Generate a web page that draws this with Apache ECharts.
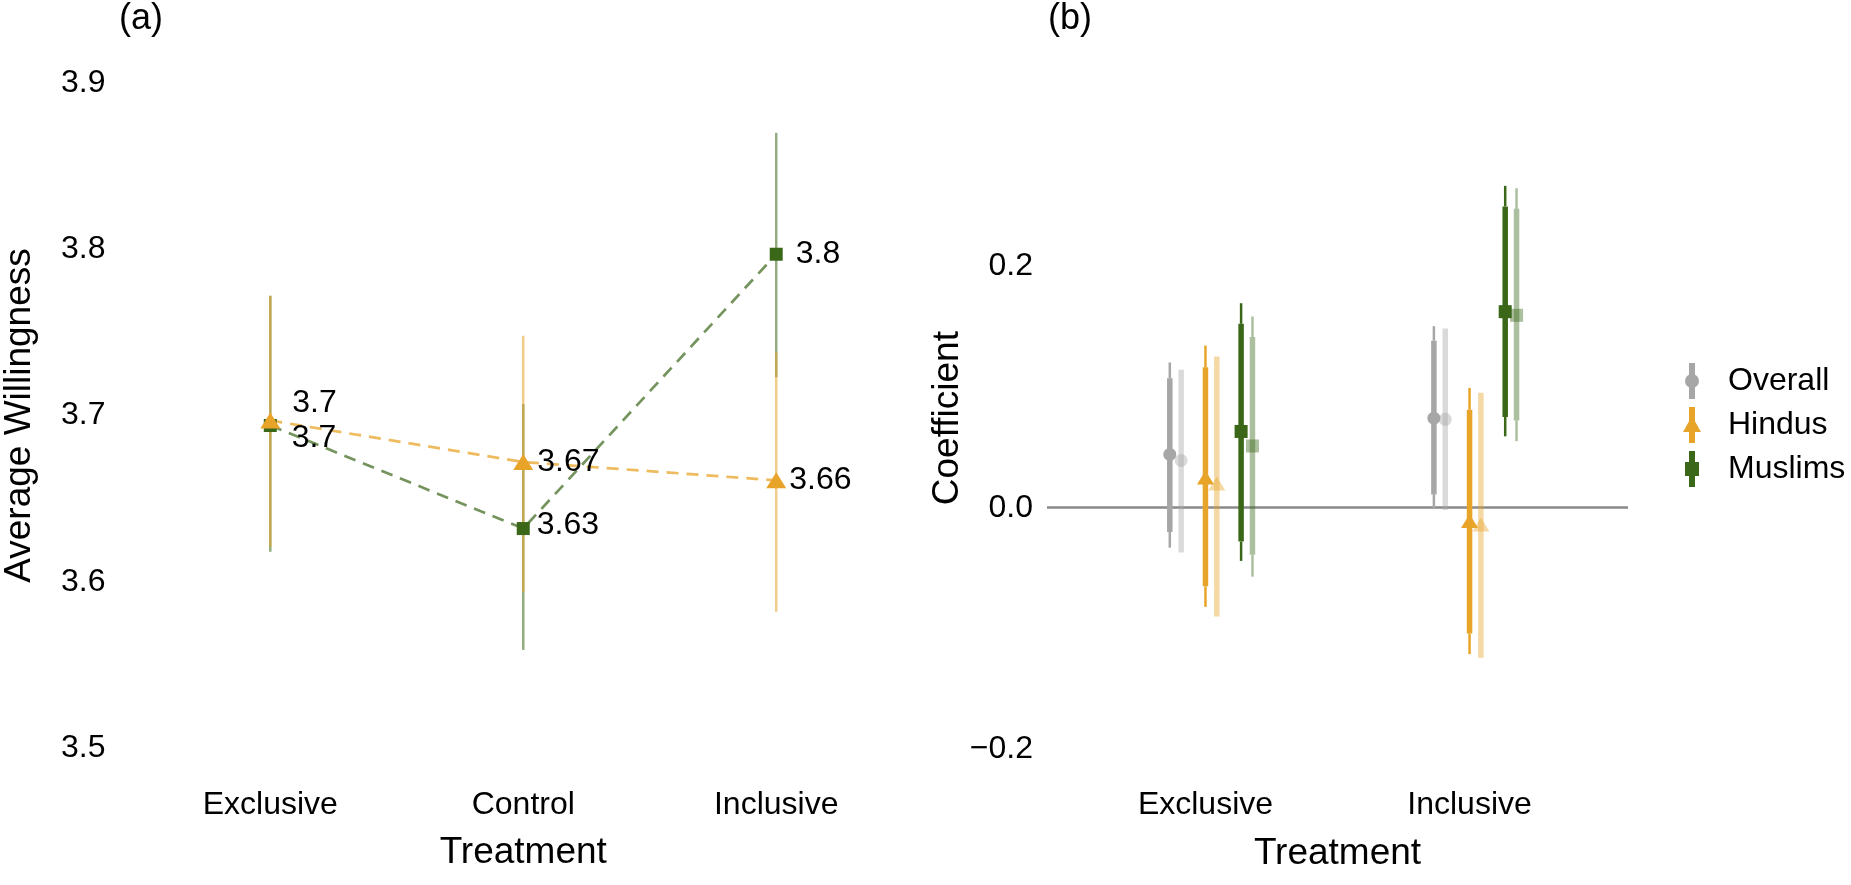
<!DOCTYPE html>
<html>
<head>
<meta charset="utf-8">
<script src="https://cdn.jsdelivr.net/npm/echarts@6/dist/echarts.min.js"></script>
<style>
html, body { margin: 0; padding: 0; background: #fff; }
#chart { width: 1851px; height: 885px; }
</style>
</head>
<body>
<div id="chart"></div>
<script>
// panel (a): average willingness by treatment
var treatmentsA = ['Exclusive', 'Control', 'Inclusive'];
var yTicksA = [3.5, 3.6, 3.7, 3.8, 3.9];
var hindusMean = [3.697, 3.672, 3.661];
var hindusLo = [3.621, 3.594, 3.582];
var hindusHi = [3.772, 3.748, 3.738];
var hindusLabels = ['3.7', '3.67', '3.66'];
var muslimsMean = [3.694, 3.632, 3.797];
var muslimsLo = [3.618, 3.559, 3.723];
var muslimsHi = [3.772, 3.707, 3.870];
var muslimsLabels = ['3.7', '3.63', '3.8'];

// panel (b): coefficients, 95% (thin) and 90% (thick) intervals
var treatmentsB = ['Exclusive', 'Inclusive'];
var yTicksB = [-0.2, 0, 0.2];
var overallEst = [0.044, 0.074];
var overallLo95 = [-0.033, -0.001];
var overallHi95 = [0.120, 0.150];
var overallLo90 = [-0.020, 0.011];
var overallHi90 = [0.107, 0.138];
var hindusEst = [0.025, -0.011];
var hindusLo95 = [-0.082, -0.121];
var hindusHi95 = [0.134, 0.099];
var hindusLo90 = [-0.065, -0.104];
var hindusHi90 = [0.116, 0.081];
var muslimsEst = [0.063, 0.162];
var muslimsLo95 = [-0.044, 0.059];
var muslimsHi95 = [0.169, 0.266];
var muslimsLo90 = [-0.028, 0.075];
var muslimsHi90 = [0.152, 0.249];
// lighter second estimate next to each one
var overallAltEst = [0.039, 0.073];
var overallAltLo = [-0.037, -0.002];
var overallAltHi = [0.114, 0.148];
var hindusAltEst = [0.020, -0.014];
var hindusAltLo = [-0.090, -0.124];
var hindusAltHi = [0.125, 0.095];
var muslimsAltEst = [0.051, 0.159];
var muslimsAltLo95 = [-0.057, 0.055];
var muslimsAltHi95 = [0.158, 0.264];
var muslimsAltLo90 = [-0.039, 0.072];
var muslimsAltHi90 = [0.141, 0.247];

var FONT = 'Liberation Sans';
var ORANGE = '#E8A429', GREEN = '#3A6718', GRAY = '#A6A6A6';
var ORANGE_A = 'rgba(232,164,41,0.55)', GREEN_A = 'rgba(58,103,24,0.55)';
var ORANGE_F = 'rgba(232,164,41,0.42)', GREEN_F = 'rgba(58,103,24,0.42)', GRAY_F = 'rgba(166,166,166,0.42)';

// dodge offsets (x units) for panel (b)
var dodge = { overall: -0.135, hindus: 0, muslims: 0.135 };
var altShift = 0.043;

// label nudges for panel (a) (pixels, from the symbol's right edge)
var hindusNudge = [[12, -17], [4, 0], [3, 0]];
var muslimsNudge = [[15, 13], [7, -3], [13, 0]];

var chart = echarts.init(document.getElementById('chart'));

function barRender(color) {
    return function (params, api) {
        var x = api.value(0);
        var a = api.coord([x, api.value(1)]);
        var b = api.coord([x, api.value(2)]);
        return {
            type: 'line',
            shape: { x1: a[0], y1: a[1], x2: b[0], y2: b[1] },
            style: { stroke: color, lineWidth: 2.5 }
        };
    };
}

function ciRender(color) {
    return function (params, api) {
        var x = api.value(0);
        var p = function (v) { return api.coord([x, v]); };
        var lo95 = p(api.value(1)), hi95 = p(api.value(2));
        var lo90 = p(api.value(3)), hi90 = p(api.value(4));
        var seg = function (a, b, w) {
            return { type: 'line', shape: { x1: a[0], y1: a[1], x2: b[0], y2: b[1] }, style: { stroke: color, lineWidth: w } };
        };
        return { type: 'group', children: [seg(lo95, lo90, 2.5), seg(hi90, hi95, 2.5), seg(lo90, hi90, 5.5)] };
    };
}

function ciData(off, lo95, hi95, lo90, hi90) {
    return treatmentsB.map(function (t, i) {
        return [i + 1 + off, lo95[i], hi95[i], lo90[i], hi90[i]];
    });
}

function ptData(off, est) {
    return treatmentsB.map(function (t, i) { return [i + 1 + off, est[i]]; });
}

function meanData(mean, nudge) {
    return treatmentsA.map(function (t, i) {
        return { value: [i + 1, mean[i]], label: { offset: nudge[i] } };
    });
}

function xAxisFor(grid, max, cats, margin, gap) {
    return {
        gridIndex: grid, type: 'value', min: 0.4, max: max,
        axisLine: { show: false }, axisTick: { show: false }, splitLine: { show: false },
        axisLabel: {
            customValues: cats.map(function (c, i) { return i + 1; }),
            formatter: function (v) { return cats[Math.round(v) - 1]; },
            margin: margin, fontSize: 32, color: '#000', fontFamily: FONT
        },
        name: 'Treatment', nameLocation: 'middle', nameGap: gap,
        nameTextStyle: { fontSize: 37, color: '#000', fontFamily: FONT }
    };
}

chart.setOption({
    animation: false,
    textStyle: { color: '#000', fontFamily: FONT },
    title: [
        { text: '(a)', left: 119, top: 1, padding: 0, textStyle: { fontSize: 36, fontWeight: 'normal', color: '#000', fontFamily: FONT } },
        { text: '(b)', left: 1048, top: 1, padding: 0, textStyle: { fontSize: 36, fontWeight: 'normal', color: '#000', fontFamily: FONT } }
    ],
    grid: [
        { left: 118, top: 83, width: 810, height: 665 },
        { left: 1047, top: 83, width: 581, height: 670.3 }
    ],
    legend: {
        data: [
            { name: 'Overall', icon: 'path://M4 0H10V36H4Z M0 18A7 7 0 1 1 14 18A7 7 0 1 1 0 18Z' },
            { name: 'Hindus', icon: 'path://M6 0H12V36H6Z M9 9L18 25H0Z' },
            { name: 'Muslims', icon: 'path://M4 0H10V36H4Z M0 11H14V25H0Z' }
        ],
        orient: 'vertical', left: 1683, top: 363, padding: 0,
        itemWidth: 18, itemHeight: 36, itemGap: 8, selectedMode: false,
        textStyle: { fontSize: 32, color: '#000', fontFamily: FONT, padding: [0, 0, 0, 22] }
    },
    xAxis: [
        xAxisFor(0, 3.6, treatmentsA, 41, 86),
        xAxisFor(1, 2.6, treatmentsB, 36, 81.5)
    ],
    yAxis: [
        {
            gridIndex: 0, type: 'value', min: 3.5, max: 3.9,
            axisLine: { show: false }, axisTick: { show: false }, splitLine: { show: false },
            axisLabel: {
                customValues: yTicksA,
                formatter: function (v) { return v.toFixed(1); },
                margin: 13, fontSize: 32, color: '#000', fontFamily: FONT
            },
            name: 'Average Willingness', nameLocation: 'middle', nameGap: 80.5,
            nameTextStyle: { fontSize: 37, color: '#000', fontFamily: FONT }
        },
        {
            gridIndex: 1, type: 'value', min: -0.203, max: 0.351,
            axisLine: { show: false }, axisTick: { show: false }, splitLine: { show: false },
            axisLabel: {
                customValues: yTicksB,
                formatter: function (v) { return (v < 0 ? '\u2212' : '') + Math.abs(v).toFixed(1); },
                margin: 14, fontSize: 32, color: '#000', fontFamily: FONT
            },
            name: 'Coefficient', nameLocation: 'middle', nameGap: 67,
            nameTextStyle: { fontSize: 37, color: '#000', fontFamily: FONT }
        }
    ],
    series: [
        // ---- panel (a) ----
        {
            type: 'custom', name: 'Muslims CI (a)', xAxisIndex: 0, yAxisIndex: 0, z: 1,
            renderItem: barRender(GREEN_A),
            data: treatmentsA.map(function (t, i) { return [i + 1, muslimsLo[i], muslimsHi[i]]; })
        },
        {
            type: 'custom', name: 'Hindus CI (a)', xAxisIndex: 0, yAxisIndex: 0, z: 1,
            renderItem: barRender(ORANGE_A),
            data: treatmentsA.map(function (t, i) { return [i + 1, hindusLo[i], hindusHi[i]]; })
        },
        {
            type: 'line', name: 'Hindus line (a)', xAxisIndex: 0, yAxisIndex: 0, z: 2,
            symbol: 'none', silent: true,
            lineStyle: { color: 'rgba(232,164,41,0.75)', width: 2.7, type: [12, 8] },
            data: treatmentsA.map(function (t, i) { return [i + 1, hindusMean[i]]; })
        },
        {
            type: 'line', name: 'Muslims line (a)', xAxisIndex: 0, yAxisIndex: 0, z: 2,
            symbol: 'none', silent: true,
            lineStyle: { color: 'rgba(58,103,24,0.7)', width: 2.7, type: [12, 8] },
            data: treatmentsA.map(function (t, i) { return [i + 1, muslimsMean[i]]; })
        },
        {
            type: 'scatter', name: 'Muslims (a)', xAxisIndex: 0, yAxisIndex: 0, z: 3,
            symbol: 'rect', symbolSize: 13, itemStyle: { color: GREEN, opacity: 1 },
            label: {
                show: true, position: 'right', distance: 0, fontSize: 32, color: '#000', fontFamily: FONT,
                formatter: function (p) { return muslimsLabels[p.dataIndex]; }
            },
            data: meanData(muslimsMean, muslimsNudge)
        },
        {
            type: 'scatter', name: 'Hindus (a)', xAxisIndex: 0, yAxisIndex: 0, z: 3,
            symbol: 'triangle', symbolSize: [20, 16], itemStyle: { color: ORANGE, opacity: 1 },
            label: {
                show: true, position: 'right', distance: 0, fontSize: 32, color: '#000', fontFamily: FONT,
                formatter: function (p) { return hindusLabels[p.dataIndex]; }
            },
            data: meanData(hindusMean, hindusNudge)
        },
        // ---- panel (b) ----
        {
            type: 'custom', name: 'Overall CI', xAxisIndex: 1, yAxisIndex: 1, z: 2,
            renderItem: ciRender(GRAY),
            data: ciData(dodge.overall, overallLo95, overallHi95, overallLo90, overallHi90)
        },
        {
            type: 'custom', name: 'Overall alt CI', xAxisIndex: 1, yAxisIndex: 1, z: 2,
            renderItem: ciRender(GRAY_F),
            data: ciData(dodge.overall + altShift, overallAltLo, overallAltHi, overallAltLo, overallAltHi)
        },
        {
            type: 'custom', name: 'Hindus CI', xAxisIndex: 1, yAxisIndex: 1, z: 2,
            renderItem: ciRender(ORANGE),
            data: ciData(dodge.hindus, hindusLo95, hindusHi95, hindusLo90, hindusHi90)
        },
        {
            type: 'custom', name: 'Hindus alt CI', xAxisIndex: 1, yAxisIndex: 1, z: 2,
            renderItem: ciRender(ORANGE_F),
            data: ciData(dodge.hindus + altShift, hindusAltLo, hindusAltHi, hindusAltLo, hindusAltHi)
        },
        {
            type: 'custom', name: 'Muslims CI', xAxisIndex: 1, yAxisIndex: 1, z: 2,
            renderItem: ciRender(GREEN),
            data: ciData(dodge.muslims, muslimsLo95, muslimsHi95, muslimsLo90, muslimsHi90)
        },
        {
            type: 'custom', name: 'Muslims alt CI', xAxisIndex: 1, yAxisIndex: 1, z: 2,
            renderItem: ciRender(GREEN_F),
            data: ciData(dodge.muslims + altShift, muslimsAltLo95, muslimsAltHi95, muslimsAltLo90, muslimsAltHi90)
        },
        {
            type: 'scatter', name: 'Overall', xAxisIndex: 1, yAxisIndex: 1, z: 3,
            symbol: 'circle', symbolSize: 13, itemStyle: { color: GRAY, opacity: 1 },
            data: ptData(dodge.overall, overallEst),
            markLine: {
                silent: true, symbol: 'none', z: 1, label: { show: false },
                lineStyle: { color: '#8a8a8a', width: 2.5, type: 'solid' },
                data: [{ yAxis: 0 }]
            }
        },
        {
            type: 'scatter', name: 'Overall alt', xAxisIndex: 1, yAxisIndex: 1, z: 3,
            symbol: 'circle', symbolSize: 13, itemStyle: { color: GRAY_F, opacity: 1 },
            data: ptData(dodge.overall + altShift, overallAltEst)
        },
        {
            type: 'scatter', name: 'Hindus', xAxisIndex: 1, yAxisIndex: 1, z: 3,
            symbol: 'triangle', symbolSize: [17, 14], itemStyle: { color: ORANGE, opacity: 1 },
            data: ptData(dodge.hindus, hindusEst)
        },
        {
            type: 'scatter', name: 'Hindus alt', xAxisIndex: 1, yAxisIndex: 1, z: 3,
            symbol: 'triangle', symbolSize: [17, 14], itemStyle: { color: ORANGE_F, opacity: 1 },
            data: ptData(dodge.hindus + altShift, hindusAltEst)
        },
        {
            type: 'scatter', name: 'Muslims', xAxisIndex: 1, yAxisIndex: 1, z: 3,
            symbol: 'rect', symbolSize: 13, itemStyle: { color: GREEN, opacity: 1 },
            data: ptData(dodge.muslims, muslimsEst)
        },
        {
            type: 'scatter', name: 'Muslims alt', xAxisIndex: 1, yAxisIndex: 1, z: 3,
            symbol: 'rect', symbolSize: 13, itemStyle: { color: GREEN_F, opacity: 1 },
            data: ptData(dodge.muslims + altShift, muslimsAltEst)
        }
    ]
});
</script>
</body>
</html>
